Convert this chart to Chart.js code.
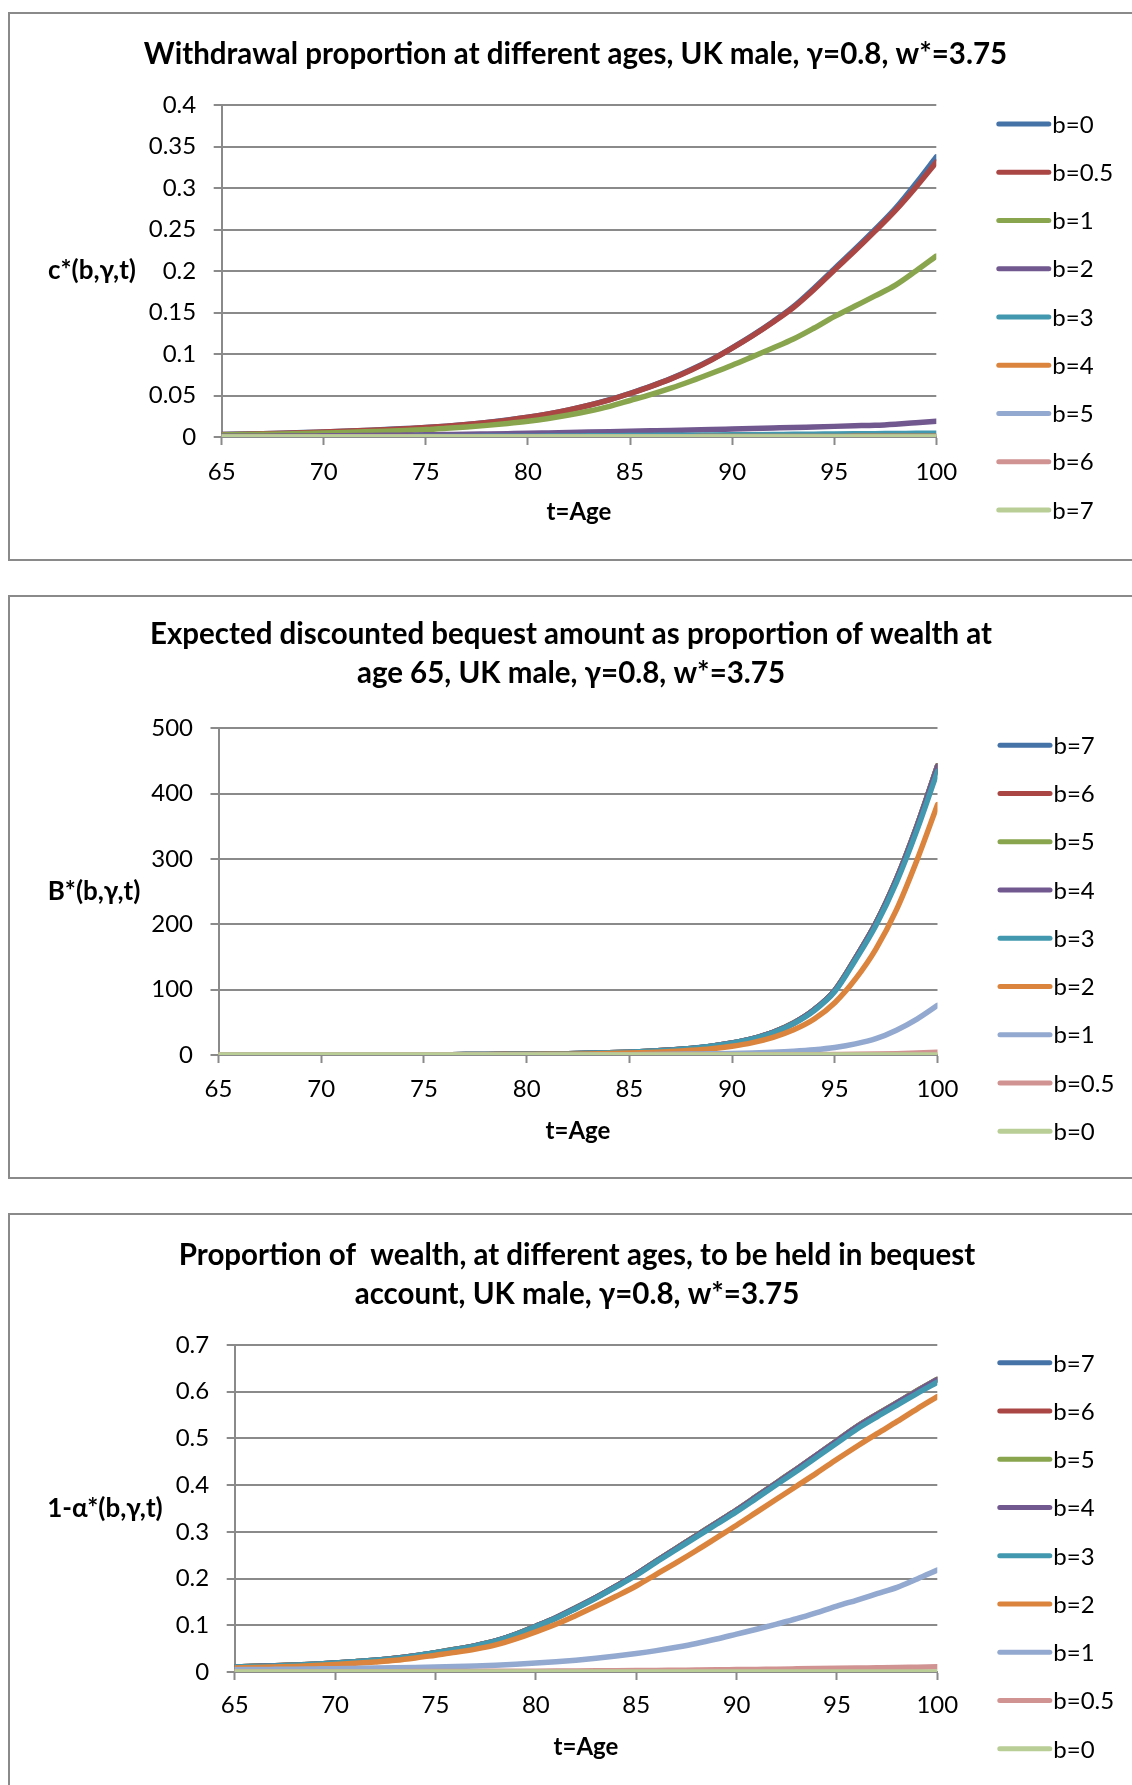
<!DOCTYPE html>
<html>
<head>
<meta charset="utf-8">
<title>UK male, γ=0.8, w*=3.75</title>
<script src="https://cdn.jsdelivr.net/npm/chart.js@4.4.0/dist/chart.umd.min.js"></script>
<style>
    html, body { margin: 0; padding: 0; background: #fff; overflow: hidden; }
    #page { position: relative; width: 1132px; height: 1785px; }
    .frame { position: absolute; left: 8px; width: 1200px; border: 2px solid #8a8a8a; box-sizing: border-box; }
    canvas { position: absolute; left: 0; }
</style>
</head>
<body>
<div id="page">
    <div class="frame" style="top:12px;height:549px"></div>
    <div class="frame" style="top:595px;height:584px"></div>
    <div class="frame" style="top:1213px;height:700px"></div>
    <canvas id="withdrawalChart" width="1132" height="546" style="top:14px"></canvas>
    <canvas id="bequestChart" width="1132" height="580" style="top:598px"></canvas>
    <canvas id="accountChart" width="1132" height="570" style="top:1215px"></canvas>
</div>
<script>
// ages on the x axis
const ages = [65, 66, 67, 68, 69, 70, 71, 72, 73, 74, 75, 76, 77, 78, 79, 80, 81, 82,
              83, 84, 85, 86, 87, 88, 89, 90, 91, 92, 93, 94, 95, 96, 97, 98, 99, 100];

// Chart 1: withdrawal proportion c*(b,γ,t)
const withdrawalLabels = ['b=0', 'b=0.5', 'b=1', 'b=2', 'b=3', 'b=4', 'b=5', 'b=6', 'b=7'];
const withdrawalB0 = [0.0031, 0.0035, 0.0040, 0.0046, 0.0053, 0.0061, 0.0069, 0.0079, 0.0089, 0.0101,
    0.0114, 0.0131, 0.0151, 0.0175, 0.0204, 0.0238, 0.0279, 0.0327, 0.0384, 0.0450, 0.0527, 0.0610,
    0.0703, 0.0812, 0.0935, 0.1075, 0.1225, 0.1390, 0.1570, 0.1790, 0.2025, 0.2258, 0.2500, 0.2755,
    0.3055, 0.3375];
const withdrawalB05 = [0.0030, 0.0034, 0.0039, 0.0045, 0.0052, 0.0060, 0.0068, 0.0078, 0.0088, 0.0100,
    0.0113, 0.0130, 0.0150, 0.0174, 0.0203, 0.0237, 0.0278, 0.0326, 0.0382, 0.0448, 0.0524, 0.0607,
    0.0700, 0.0808, 0.0930, 0.1070, 0.1220, 0.1383, 0.1560, 0.1775, 0.2010, 0.2240, 0.2480, 0.2730,
    0.3010, 0.3310];
const withdrawalB1 = [0.0025, 0.0029, 0.0033, 0.0037, 0.0042, 0.0048, 0.0055, 0.0062, 0.0070, 0.0079,
    0.0089, 0.0104, 0.0121, 0.0140, 0.0163, 0.0190, 0.0224, 0.0265, 0.0313, 0.0370, 0.0440, 0.0510,
    0.0588, 0.0675, 0.0768, 0.0865, 0.0968, 0.1072, 0.1180, 0.1310, 0.1450, 0.1575, 0.1700, 0.1830,
    0.2000, 0.2180];
const withdrawalB2 = [0.0008, 0.0009, 0.0010, 0.0011, 0.0012, 0.0014, 0.0016, 0.0018, 0.0020, 0.0023,
    0.0026, 0.0029, 0.0032, 0.0036, 0.0040, 0.0044, 0.0049, 0.0054, 0.0059, 0.0064, 0.0069, 0.0074,
    0.0079, 0.0085, 0.0090, 0.0096, 0.0102, 0.0108, 0.0114, 0.0121, 0.0128, 0.0135, 0.0142, 0.0155,
    0.0172, 0.0190];
const withdrawalB3 = [0.0001, 0.0001, 0.0001, 0.0002, 0.0002, 0.0002, 0.0003, 0.0003, 0.0004, 0.0004,
    0.0005, 0.0006, 0.0007, 0.0008, 0.0009, 0.0010, 0.0011, 0.0013, 0.0014, 0.0016, 0.0017, 0.0019,
    0.0021, 0.0022, 0.0024, 0.0026, 0.0028, 0.0030, 0.0032, 0.0034, 0.0036, 0.0038, 0.0040, 0.0042,
    0.0044, 0.0046];
const withdrawalB4 = [0.0000, 0.0000, 0.0000, 0.0000, 0.0000, 0.0001, 0.0001, 0.0001, 0.0001, 0.0001,
    0.0001, 0.0001, 0.0002, 0.0002, 0.0002, 0.0002, 0.0002, 0.0003, 0.0003, 0.0003, 0.0003, 0.0004,
    0.0004, 0.0004, 0.0005, 0.0005, 0.0005, 0.0006, 0.0006, 0.0007, 0.0007, 0.0008, 0.0008, 0.0009,
    0.0009, 0.0010];
const withdrawalB5 = [0, 0, 0, 0, 0, 0, 0, 0, 0, 0, 0, 0, 0, 0, 0, 0, 0, 0, 0, 0, 0, 0, 0, 0, 0,
    0.0001, 0.0001, 0.0001, 0.0001, 0.0001, 0.0001, 0.0001, 0.0001, 0.0002, 0.0002, 0.0002];
const withdrawalB6 = [0, 0, 0, 0, 0, 0, 0, 0, 0, 0, 0, 0, 0, 0, 0, 0, 0, 0, 0, 0, 0, 0, 0, 0, 0,
    0, 0, 0, 0, 0, 0, 0, 0, 0.0001, 0.0001, 0.0001];
const withdrawalB7 = [0, 0, 0, 0, 0, 0, 0, 0, 0, 0, 0, 0, 0, 0, 0, 0, 0, 0, 0, 0, 0, 0, 0, 0, 0,
    0, 0, 0, 0, 0, 0, 0, 0, 0, 0, 0];

// Chart 2: expected discounted bequest B*(b,γ,t)
const bequestLabels = ['b=7', 'b=6', 'b=5', 'b=4', 'b=3', 'b=2', 'b=1', 'b=0.5', 'b=0'];
const bequestB7 = [0.04, 0.05, 0.07, 0.08, 0.10, 0.12, 0.15, 0.19, 0.24, 0.31, 0.39, 0.49, 0.61, 0.77,
    0.97, 1.22, 1.58, 2.04, 2.60, 3.37, 4.39, 5.71, 7.55, 10.1, 13.6, 18.4, 25.0, 34.7, 49.0, 69.4,
    98.9, 147.8, 201.8, 269.2, 350.5, 442.5];
const bequestB6 = [0.04, 0.05, 0.07, 0.08, 0.10, 0.12, 0.15, 0.19, 0.24, 0.31, 0.39, 0.49, 0.61, 0.77,
    0.97, 1.22, 1.58, 2.04, 2.60, 3.37, 4.39, 5.71, 7.55, 10.1, 13.6, 18.4, 25.0, 34.7, 49.0, 69.4,
    98.9, 147.8, 201.8, 269.2, 350.5, 442.4];
const bequestB5 = [0.04, 0.05, 0.07, 0.08, 0.10, 0.12, 0.15, 0.19, 0.24, 0.31, 0.39, 0.49, 0.61, 0.77,
    0.97, 1.22, 1.58, 2.04, 2.60, 3.37, 4.39, 5.71, 7.55, 10.1, 13.6, 18.4, 25.0, 34.7, 49.0, 69.4,
    98.9, 147.8, 201.8, 269.1, 350.4, 442.2];
const bequestB4 = [0.04, 0.05, 0.07, 0.08, 0.10, 0.12, 0.15, 0.19, 0.24, 0.31, 0.39, 0.49, 0.61, 0.77,
    0.97, 1.22, 1.58, 2.04, 2.60, 3.37, 4.39, 5.71, 7.55, 10.1, 13.5, 18.3, 24.9, 34.6, 48.9, 69.3,
    98.7, 147.5, 201.4, 268.7, 349.8, 441.5];
const bequestB3 = [0.04, 0.05, 0.065, 0.08, 0.10, 0.12, 0.15, 0.19, 0.24, 0.30, 0.38, 0.48, 0.60, 0.75,
    0.95, 1.20, 1.55, 2.00, 2.55, 3.30, 4.30, 5.60, 7.40, 9.90, 13.3, 18.0, 24.5, 34.0, 48.0, 68.0,
    97.0, 145.0, 198.0, 264.0, 344.0, 434.0];
const bequestB2 = [0.03, 0.035, 0.04, 0.05, 0.065, 0.08, 0.10, 0.12, 0.15, 0.19, 0.24, 0.30, 0.38, 0.48,
    0.61, 0.78, 1.00, 1.30, 1.70, 2.20, 2.90, 3.90, 5.20, 7.10, 9.70, 13.5, 19.0, 27.0, 38.5, 55.0,
    80.0, 116.0, 162.0, 222.0, 298.0, 383.0];
const bequestB1 = [0.008, 0.010, 0.012, 0.014, 0.017, 0.020, 0.025, 0.030, 0.035, 0.040, 0.050, 0.065,
    0.080, 0.10, 0.12, 0.15, 0.19, 0.25, 0.32, 0.42, 0.55, 0.75, 1.00, 1.40, 1.90, 2.20, 3.00, 4.10,
    5.70, 8.00, 11.5, 17.0, 25.0, 38.0, 55.0, 76.0];
const bequestB05 = [0, 0, 0, 0, 0, 0.001, 0.001, 0.001, 0.002, 0.002, 0.003, 0.004, 0.005, 0.006, 0.008,
    0.010, 0.013, 0.017, 0.022, 0.03, 0.04, 0.05, 0.07, 0.09, 0.12, 0.14, 0.19, 0.27, 0.38, 0.53,
    0.75, 1.05, 1.50, 2.10, 3.00, 4.20];
const bequestB0 = [0, 0, 0, 0, 0, 0, 0, 0, 0, 0, 0, 0, 0, 0, 0, 0, 0, 0, 0, 0, 0, 0, 0, 0, 0,
    0, 0, 0, 0, 0, 0, 0, 0, 0, 0, 0];

// Chart 3: proportion held in bequest account 1-α*(b,γ,t)
const accountLabels = ['b=7', 'b=6', 'b=5', 'b=4', 'b=3', 'b=2', 'b=1', 'b=0.5', 'b=0'];
const accountB7 = [0.0110, 0.0121, 0.0133, 0.0148, 0.0168, 0.0193, 0.0221, 0.0253, 0.0294, 0.0349,
    0.0414, 0.0485, 0.0565, 0.0666, 0.0808, 0.0980, 0.1162, 0.1374, 0.1596, 0.1838, 0.2091, 0.2373,
    0.2646, 0.2919, 0.3192, 0.3465, 0.3757, 0.4050, 0.4343, 0.4645, 0.4948, 0.5250, 0.5513, 0.5765,
    0.6018, 0.6260];
const accountB6 = [0.0110, 0.0121, 0.0133, 0.0148, 0.0168, 0.0193, 0.0221, 0.0253, 0.0294, 0.0349,
    0.0414, 0.0485, 0.0565, 0.0666, 0.0808, 0.0980, 0.1162, 0.1374, 0.1596, 0.1838, 0.2091, 0.2373,
    0.2646, 0.2919, 0.3192, 0.3465, 0.3757, 0.4050, 0.4343, 0.4645, 0.4948, 0.5250, 0.5513, 0.5765,
    0.6018, 0.6259];
const accountB5 = [0.0110, 0.0121, 0.0133, 0.0148, 0.0168, 0.0193, 0.0221, 0.0253, 0.0294, 0.0349,
    0.0414, 0.0485, 0.0565, 0.0666, 0.0808, 0.0980, 0.1162, 0.1374, 0.1596, 0.1838, 0.2091, 0.2373,
    0.2646, 0.2919, 0.3192, 0.3465, 0.3757, 0.4050, 0.4343, 0.4645, 0.4948, 0.5250, 0.5512, 0.5764,
    0.6017, 0.6258];
const accountB4 = [0.0109, 0.0120, 0.0132, 0.0147, 0.0167, 0.0192, 0.0220, 0.0252, 0.0293, 0.0348,
    0.0413, 0.0484, 0.0564, 0.0665, 0.0806, 0.0978, 0.1160, 0.1372, 0.1594, 0.1836, 0.2089, 0.2370,
    0.2643, 0.2915, 0.3188, 0.3461, 0.3753, 0.4045, 0.4338, 0.4640, 0.4942, 0.5244, 0.5506, 0.5758,
    0.6010, 0.6252];
const accountB3 = [0.0107, 0.0118, 0.0130, 0.0145, 0.0165, 0.0190, 0.0218, 0.0250, 0.0290, 0.0345,
    0.0410, 0.0480, 0.0560, 0.0660, 0.0800, 0.0970, 0.1150, 0.1360, 0.1580, 0.1820, 0.2070, 0.2350,
    0.2620, 0.2890, 0.3160, 0.3430, 0.3720, 0.4010, 0.4300, 0.4600, 0.4900, 0.5200, 0.5460, 0.5710,
    0.5960, 0.6200];
const accountB2 = [0.0086, 0.0095, 0.0107, 0.0120, 0.0138, 0.0160, 0.0185, 0.0215, 0.0250, 0.0300,
    0.0360, 0.0420, 0.0490, 0.0580, 0.0710, 0.0860, 0.1020, 0.1210, 0.1410, 0.1620, 0.1840, 0.2090,
    0.2340, 0.2600, 0.2870, 0.3140, 0.3420, 0.3700, 0.3980, 0.4260, 0.4550, 0.4830, 0.5100, 0.5360,
    0.5630, 0.5890];
const accountB1 = [0.0050, 0.0053, 0.0057, 0.0061, 0.0066, 0.0071, 0.0077, 0.0083, 0.0090, 0.0098,
    0.0107, 0.0118, 0.0131, 0.0147, 0.0166, 0.0190, 0.0218, 0.0252, 0.0292, 0.0340, 0.0395, 0.0458,
    0.0530, 0.0610, 0.0705, 0.0810, 0.0915, 0.1025, 0.1140, 0.1270, 0.1410, 0.1540, 0.1675, 0.1810,
    0.1990, 0.2180];
const accountB05 = [0.0003, 0.0003, 0.0004, 0.0004, 0.0005, 0.0005, 0.0006, 0.0007, 0.0008, 0.0009,
    0.0010, 0.0011, 0.0013, 0.0014, 0.0016, 0.0018, 0.0020, 0.0022, 0.0025, 0.0028, 0.0031, 0.0034,
    0.0038, 0.0042, 0.0046, 0.0051, 0.0056, 0.0061, 0.0067, 0.0073, 0.0079, 0.0085, 0.0091, 0.0097,
    0.0104, 0.0111];
const accountB0 = [0, 0, 0, 0, 0, 0, 0, 0, 0, 0, 0, 0, 0, 0, 0, 0, 0, 0, 0, 0, 0, 0, 0, 0, 0,
    0, 0, 0, 0, 0, 0, 0, 0, 0, 0, 0];

// Excel 2007 style series colours
const seriesColors = ['#4572A7', '#AA4643', '#89A54E', '#71588F', '#4198AF', '#DB843D',
                      '#93A9CF', '#D19392', '#B9CD96'];
const GRID = '#8a8a8a';
const FONT = 'Lato';

Chart.defaults.font.family = FONT;
Chart.defaults.color = '#000';

// chart title, horizontal y-axis title and the right-hand legend, Excel style
const excelExtras = {
    id: 'excelExtras',
    afterDraw(chart, args, opts) {
        const { ctx, chartArea } = chart;
        ctx.save();
        ctx.fillStyle = '#000';
        ctx.textBaseline = 'middle';
        ctx.textAlign = 'center';

        ctx.font = 'bold 29.5px ' + FONT;
        opts.title.forEach((line, i) => {
            ctx.fillText(line, opts.titleX, opts.titleY + i * opts.titleGap);
        });

        ctx.font = 'bold 26px ' + FONT;
        ctx.fillText(opts.yTitle, opts.yTitleX, (chartArea.top + chartArea.bottom) / 2);

        ctx.font = 'normal 24px ' + FONT;
        ctx.textAlign = 'left';
        chart.data.datasets.forEach((ds, i) => {
            const y = chartArea.top + opts.legendTop + i * 48.25;
            const x = chartArea.right + 60;
            ctx.strokeStyle = ds.borderColor;
            ctx.lineWidth = 5;
            ctx.lineCap = 'round';
            ctx.beginPath();
            ctx.moveTo(x + 2.5, y);
            ctx.lineTo(x + 52.5, y);
            ctx.stroke();
            ctx.fillText(ds.label, x + 56, y + 1);
        });
        ctx.restore();
    }
};

const toPoints = (values) => values.map((v, i) => ({ x: ages[i], y: v }));

const makeDatasets = (labels, seriesList) => seriesList.map((values, i) => ({
    label: labels[i],
    data: toPoints(values),
    borderColor: seriesColors[i],
    backgroundColor: seriesColors[i],
    order: -i
}));

function makeChart(id, cfg) {
    const ctx = document.getElementById(id).getContext('2d');
    return new Chart(ctx, {
        type: 'line',
        data: { datasets: makeDatasets(cfg.labels, cfg.series) },
        options: {
            responsive: false,
            animation: false,
            layout: { padding: { left: 0, right: cfg.padRight, top: cfg.padTop, bottom: 0 } },
            elements: {
                point: { radius: 0 },
                line: {
                    borderWidth: 5.5,
                    cubicInterpolationMode: 'monotone',
                    borderCapStyle: 'round',
                    borderJoinStyle: 'round'
                }
            },
            plugins: {
                legend: { display: false },
                tooltip: { enabled: false },
                title: { display: false },
                excelExtras: {
                    title: cfg.title,
                    titleX: cfg.titleX,
                    titleY: cfg.titleY,
                    titleGap: cfg.titleGap,
                    yTitle: cfg.yTitle,
                    yTitleX: cfg.yTitleX,
                    legendTop: cfg.legendTop
                }
            },
            scales: {
                x: {
                    type: 'linear',
                    min: 65,
                    max: 100,
                    ticks: { stepSize: 5, padding: cfg.xTickPadding, color: '#000', font: { size: 24 } },
                    grid: { drawOnChartArea: false, tickLength: 8, tickWidth: 2, tickColor: GRID, color: GRID },
                    border: { color: GRID, width: 2 },
                    title: {
                        display: true,
                        text: 't=Age',
                        color: '#000',
                        font: { size: 24, weight: 'bold' },
                        padding: { top: 0, bottom: cfg.xTitlePadding }
                    },
                    afterFit: (scale) => { scale.height = cfg.xHeight; }
                },
                y: {
                    min: cfg.yMin,
                    max: cfg.yMax,
                    ticks: {
                        stepSize: cfg.yStep,
                        padding: 17.5,
                        color: '#000',
                        font: { size: 24 },
                        format: { minimumFractionDigits: 0, maximumFractionDigits: 2 }
                    },
                    grid: { color: GRID, lineWidth: 2, tickLength: 8, tickWidth: 2, tickColor: GRID },
                    border: { color: GRID, width: 2 },
                    afterFit: (scale) => { scale.width = cfg.yWidth; }
                }
            }
        },
        plugins: [excelExtras]
    });
}

makeChart('withdrawalChart', {
    labels: withdrawalLabels,
    series: [withdrawalB0, withdrawalB05, withdrawalB1, withdrawalB2, withdrawalB3,
             withdrawalB4, withdrawalB5, withdrawalB6, withdrawalB7],
    title: ['Withdrawal proportion at different ages, UK male, γ=0.8, w*=3.75'],
    titleX: 575.5, titleY: 40, titleGap: 0,
    padTop: 91, yWidth: 221.7, padRight: 195.7,
    xHeight: 123, xTickPadding: 13, xTitlePadding: 33,
    yMin: 0, yMax: 0.4, yStep: 0.05,
    yTitle: 'c*(b,γ,t)', yTitleX: 92,
    legendTop: 19
});

makeChart('bequestChart', {
    labels: bequestLabels,
    series: [bequestB7, bequestB6, bequestB5, bequestB4, bequestB3,
             bequestB2, bequestB1, bequestB05, bequestB0],
    title: ['Expected discounted bequest amount as proportion of wealth at',
            'age 65, UK male, γ=0.8, w*=3.75'],
    titleX: 571, titleY: 36.5, titleGap: 38.9,
    padTop: 130.2, yWidth: 218.5, padRight: 194.5,
    xHeight: 123, xTickPadding: 12, xTitlePadding: 32,
    yMin: 0, yMax: 500, yStep: 100,
    yTitle: 'B*(b,γ,t)', yTitleX: 94,
    legendTop: 17
});

makeChart('accountChart', {
    labels: accountLabels,
    series: [accountB7, accountB6, accountB5, accountB4, accountB3,
             accountB2, accountB1, accountB05, accountB0],
    title: ['Proportion of  wealth, at different ages, to be held in bequest',
            'account, UK male, γ=0.8, w*=3.75'],
    titleX: 577, titleY: 40.2, titleGap: 38.8,
    padTop: 129.8, yWidth: 234.7, padRight: 194.7,
    xHeight: 113, xTickPadding: 11, xTitlePadding: 23,
    yMin: 0, yMax: 0.7, yStep: 0.1,
    yTitle: '1-α*(b,γ,t)', yTitleX: 105,
    legendTop: 18
});
</script>
</body>
</html>
